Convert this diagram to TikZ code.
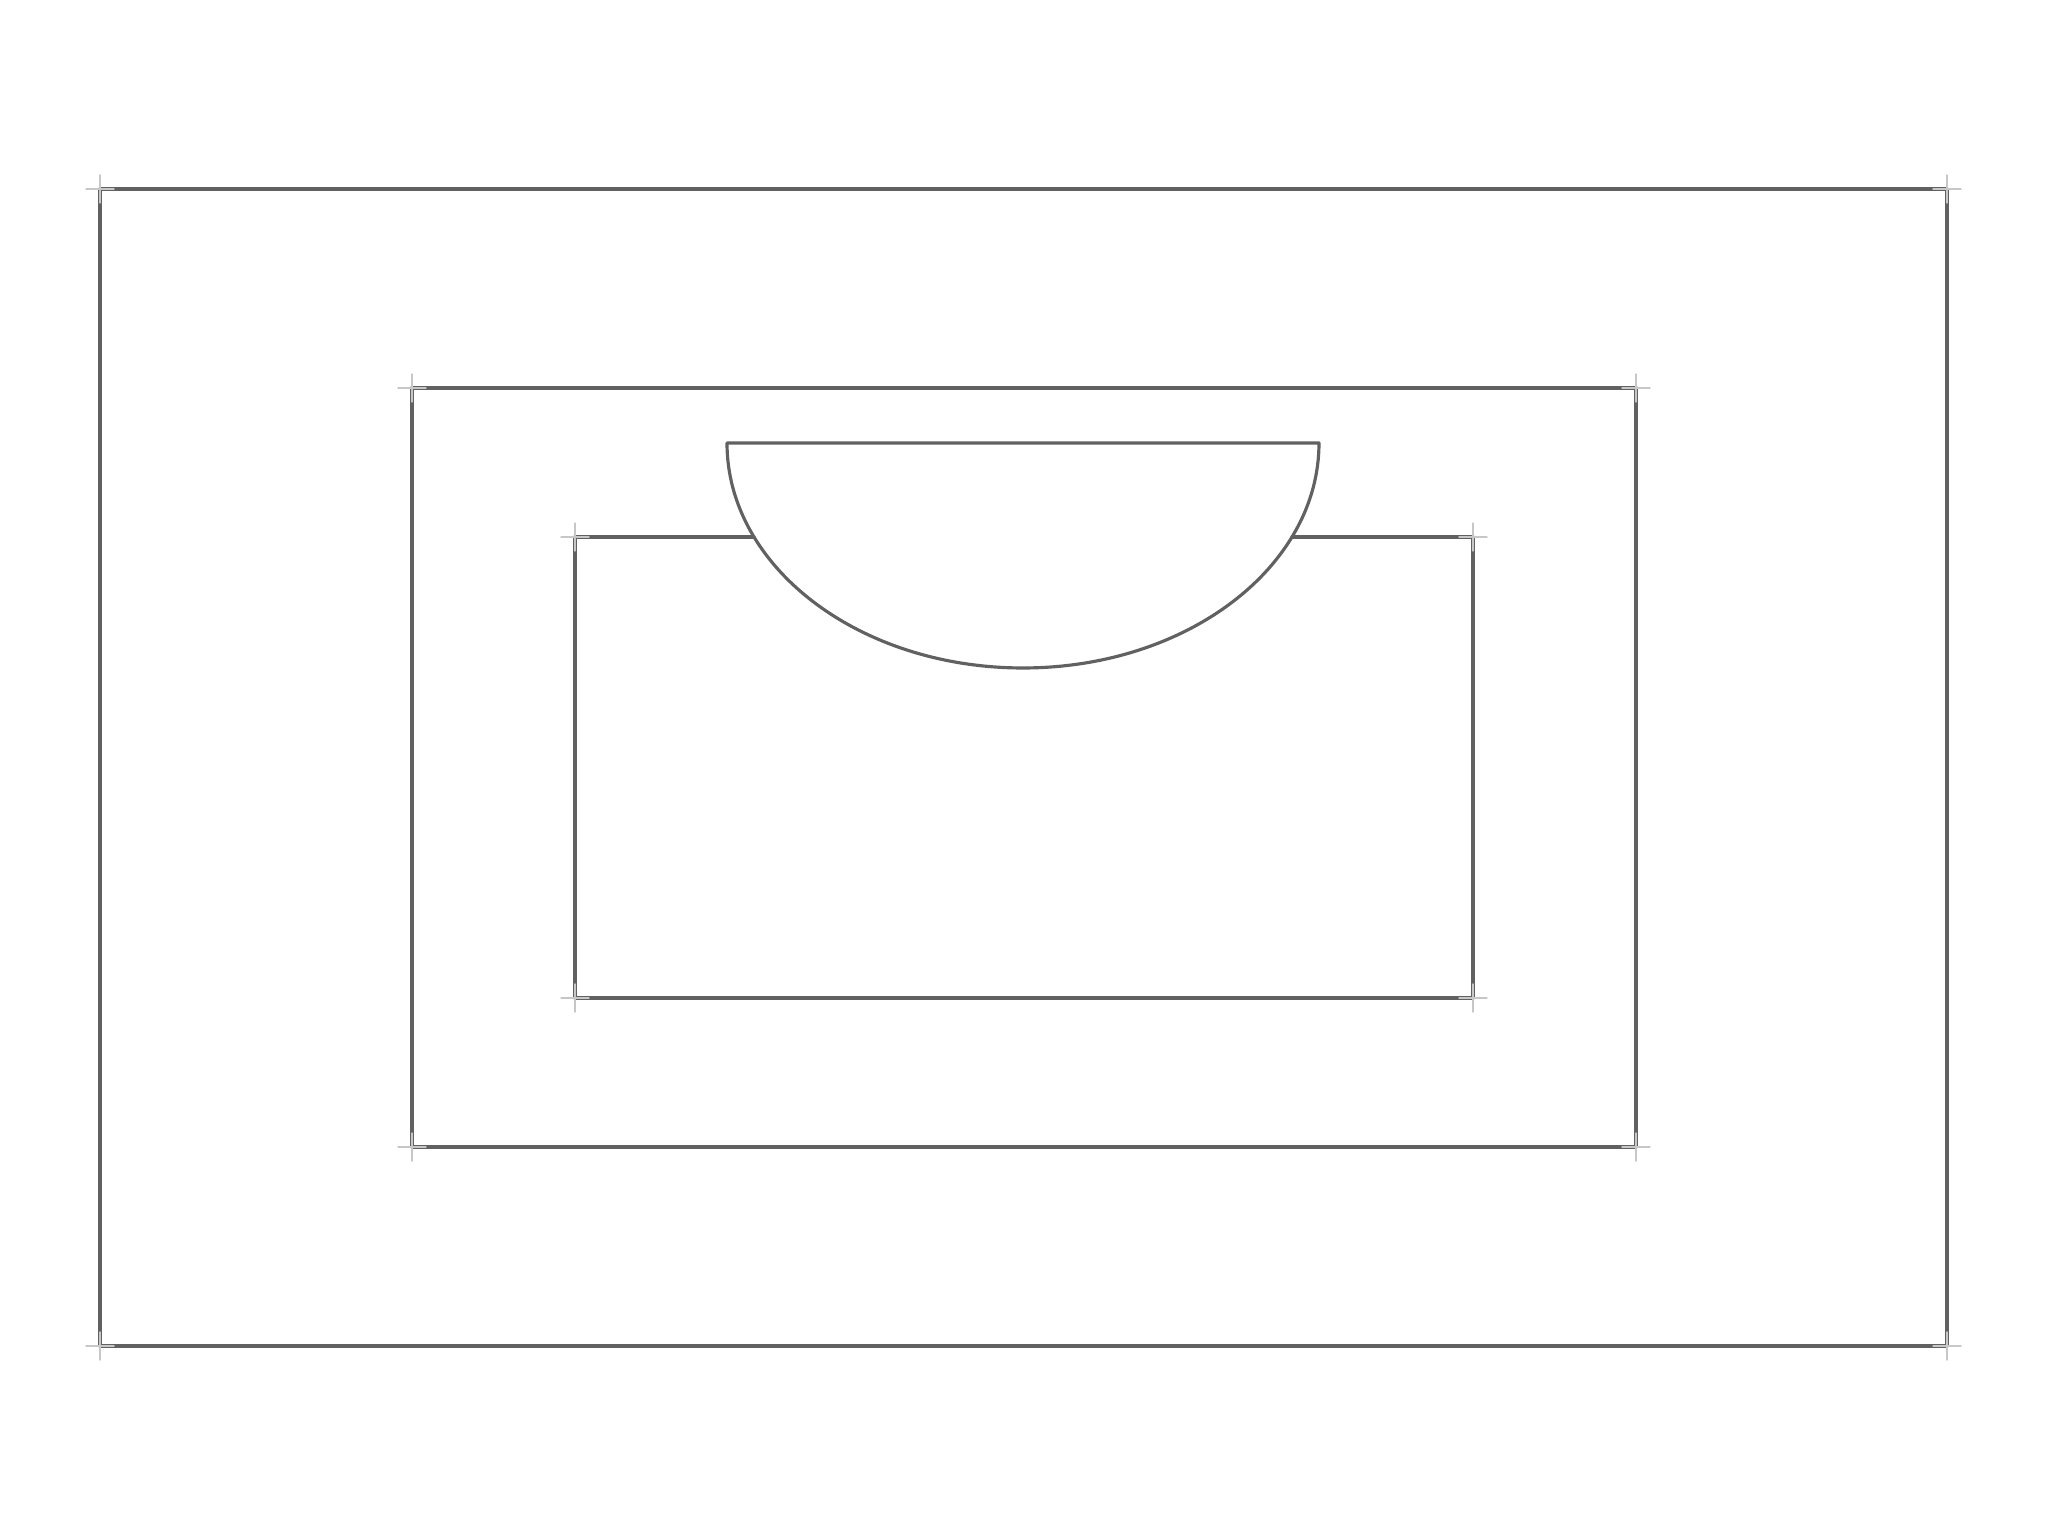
\documentclass[tikz,border=0pt]{standalone}
\usetikzlibrary{calc}

\begin{document}
\begin{tikzpicture}[line join=round, line cap=round,
		pencil/.style={draw=black!62, line width=0.9pt},
		guide/.style={draw=black!22, line width=0.4pt}]
			\useasboundingbox (0,0) rectangle (20.48,15.36);
			% corners of the outer and middle frames
			\foreach \x\y\t in {1/1.90/A,19.47/1.90/B,19.47/13.47/C,1/13.47/D,4.12/3.89/E,16.36/3.89/F,16.36/11.48/G,4.12/11.48/H}
			\coordinate (\t) at (\x,\y);
			% inner box and bowl
			\foreach \x\y\t in {5.75/5.38/K,14.73/5.38/L,14.73/9.99/M,5.75/9.99/N,7.54/9.99/P,12.92/9.99/Q}
			\coordinate (\t) at (\x,\y);
			\coordinate (O) at (10.23,10.93);
			\draw[pencil] (A)--(B)--(C)--(D)--cycle;
			\draw[pencil] (E)--(F)--(G)--(H)--cycle;
			\draw[pencil] (P)--(N)--(K)--(L)--(M)--(Q);
			\draw[pencil] ($(O)+(-2.96,0)$)--($(O)+(2.96,0)$)
			arc[start angle=0, end angle=-180, x radius=2.96, y radius=2.25];
			\foreach \t in {A,B,C,D,E,F,G,H,K,L,M,N}
			\draw[guide] ($(\t)+(-0.14,0)$)--($(\t)+(0.14,0)$) ($(\t)+(0,-0.14)$)--($(\t)+(0,0.14)$);
		\end{tikzpicture}
\end{document}
